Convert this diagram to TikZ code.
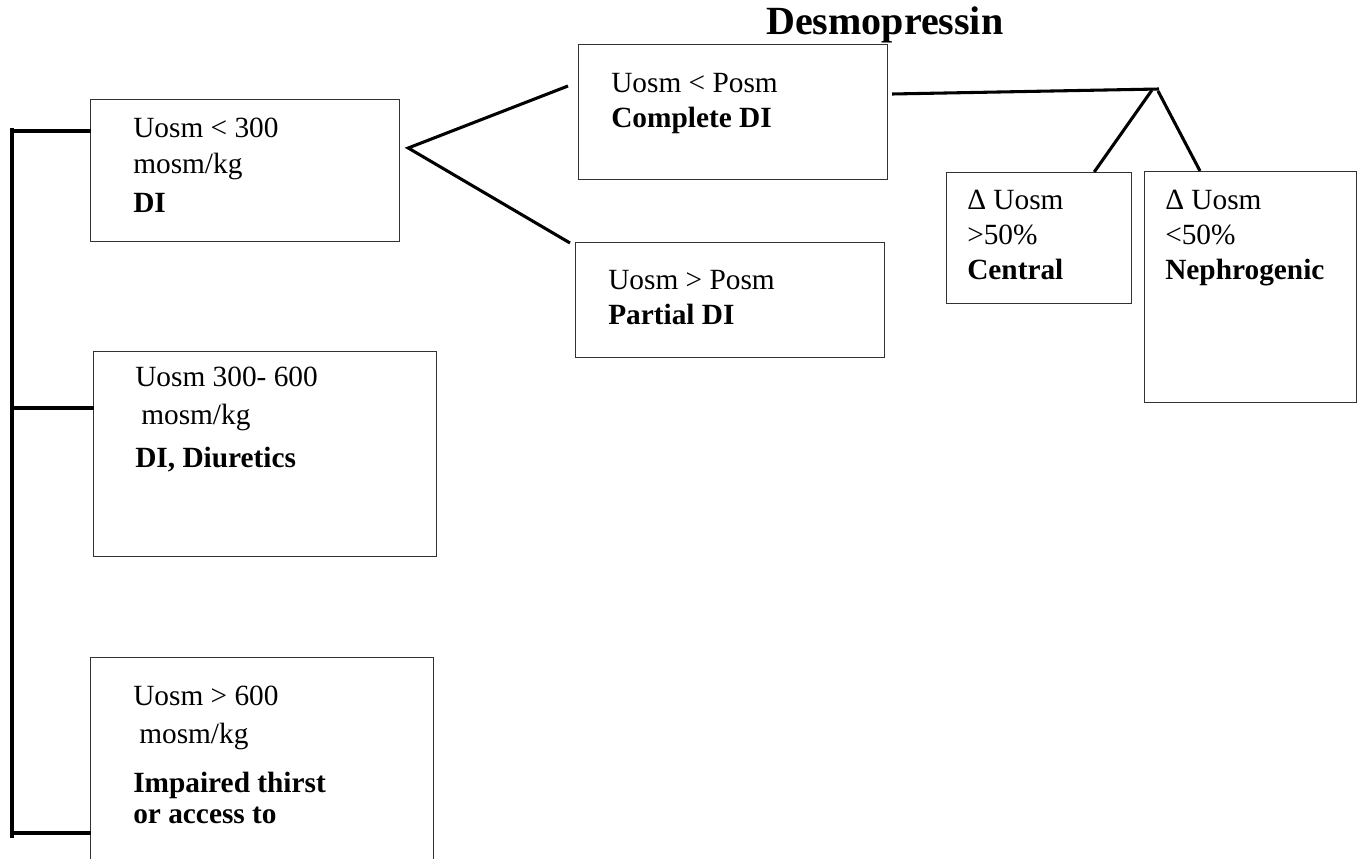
\documentclass[tikz,border=0pt]{standalone}
\usepackage{fontspec}
\setmainfont{Liberation Serif}
\usetikzlibrary{calc}
\newlength{\pix}
\setlength{\pix}{0.75pt}

\tikzset{
  box/.style={draw=black!80,line width=0.9pt,anchor=north west,inner sep=0pt},
  txt/.style={anchor=base west,align=left,inner sep=0pt,font=\fontsize{22}{26.25}\selectfont},
  link/.style={line width=2.3pt}
}

\begin{document}
\begin{tikzpicture}[x=0.75pt,y=-0.75pt]
  \useasboundingbox (0,0) rectangle (1357,859);
  \clip (0,0) rectangle (1357,859);
  % boxes
  \node[box,minimum width=309\pix,minimum height=142\pix] (dilow) at (90,99) {};
  \node[box,minimum width=343\pix,minimum height=205\pix] (dimid) at (93,351) {};
  \node[box,minimum width=343\pix,minimum height=260\pix] (dihigh) at (90,657) {};
  \node[box,minimum width=309\pix,minimum height=135\pix] (complete) at (578,44) {};
  \node[box,minimum width=309\pix,minimum height=115\pix] (partial) at (575,242) {};
  \node[box,minimum width=185\pix,minimum height=131\pix] (central) at (946,172) {};
  \node[box,minimum width=212\pix,minimum height=231\pix] (nephro) at (1144,171) {};
  % texts (placed at the baseline of their last line)
  \node[anchor=base west,inner sep=0pt,font=\fontsize{30}{36}\selectfont\bfseries] (desmo) at (766,35) {Desmopressin};
  \node[txt] (dilow-t) at (133,213) {Uosm < 300\\[1\pix]mosm/kg\\[4\pix]\textbf{DI}};
  \node[txt] (dimid-t) at (135,467) {Uosm 300- 600\\[3\pix]\hspace{6\pix}mosm/kg\\[8\pix]\textbf{DI, Diuretics}};
  \node[txt] (dihigh-t) at (133,823) {Uosm > 600\\[3\pix]\hspace{6\pix}mosm/kg\\[14\pix]\textbf{Impaired thirst}\\[-4\pix]\textbf{or access to}};
  \node[txt] (complete-t) at (611,128) {Uosm < Posm\\\textbf{Complete DI}};
  \node[txt] (partial-t) at (608,325) {Uosm > Posm\\\textbf{Partial DI}};
  \node[txt] (central-t) at (967,280) {Δ Uosm\\>50\%\\\textbf{Central}};
  \node[txt] (nephro-t) at (1165,280) {Δ Uosm\\<50\%\\\textbf{Nephrogenic}};
  % left trunk and branches
  \coordinate (trunktop) at (12,128);
  \coordinate (trunkbot) at (12,838);
  \draw[link] (trunktop) -- (trunkbot);
  \foreach \nd/\dy in {dilow/32,dimid/57,dihigh/176}
    {\draw[link] ($(trunktop |- \nd.north west)+(0,\dy)$) -- ($(\nd.north west)+(1,\dy)$);}
  % fork to complete / partial
  \coordinate (fork) at ($(dilow.north east)+(8,49)$);
  \draw[link] ($(complete.north west)+(-10,42)$) -- (fork) -- ($(partial.north west)+(-5,1)$);
  % desmopressin test
  \coordinate (apex) at (1159,89);
  \draw[link] ($(complete.north east)+(4,50)$) -- (apex);
  \draw[link] ($(central.north east)+(-38,0)$) -- ($(apex)+(-7,1)$);
  \draw[link] ($(nephro.north west)+(56,0)$) -- ($(apex)+(-1,2)$);
\end{tikzpicture}
\end{document}
